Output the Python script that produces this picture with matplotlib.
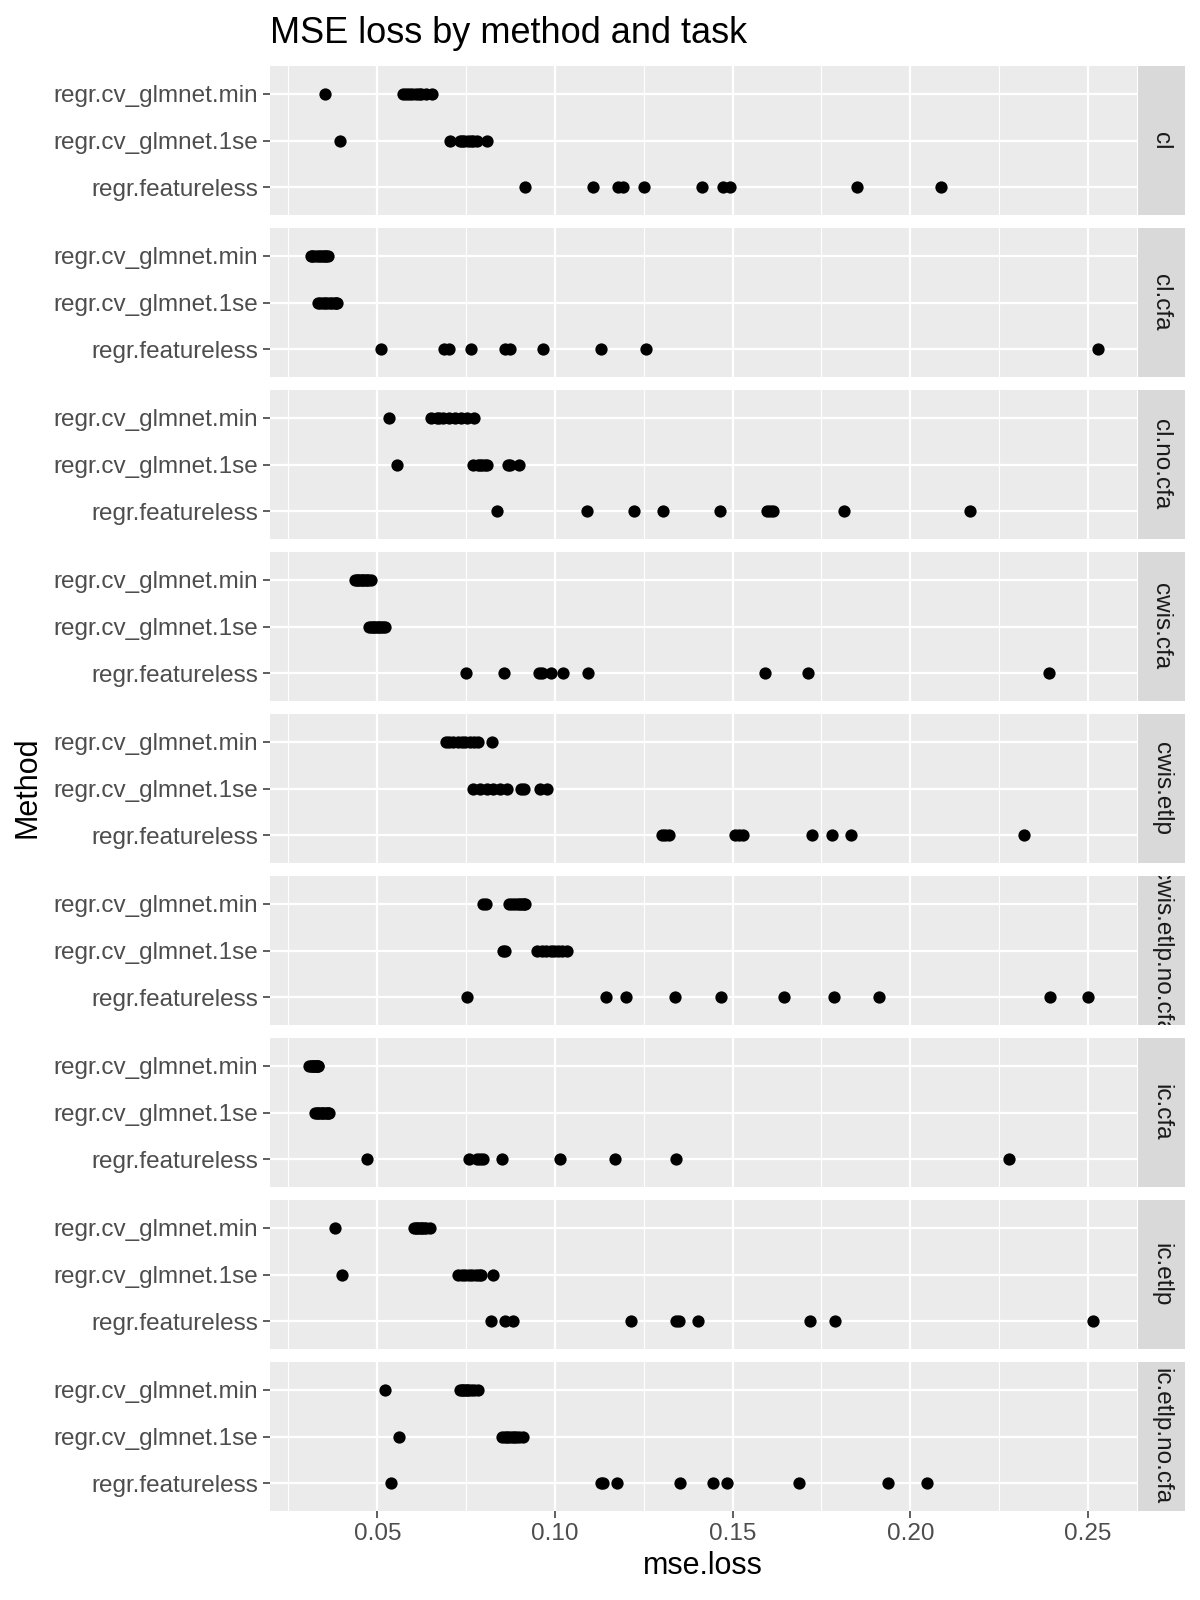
import matplotlib
matplotlib.use("Agg")
import matplotlib.pyplot as plt
import numpy as np

plt.rcParams['font.family'] = ['Liberation Sans', 'DejaVu Sans']

# ---------------- data ----------------
tasks = ["cl", "cl.cfa", "cl.no.cfa", "cwis.cfa", "cwis.etlp",
         "cwis.etlp.no.cfa", "ic.cfa", "ic.etlp", "ic.etlp.no.cfa"]
methods = ["regr.cv_glmnet.min", "regr.cv_glmnet.1se", "regr.featureless"]

cl_min = [0.0352, 0.0572, 0.0581, 0.0589, 0.0598, 0.0608, 0.0616, 0.0623, 0.0636, 0.0655]
cl_1se = [0.0394, 0.0706, 0.0733, 0.0739, 0.0745, 0.0756, 0.0763, 0.0769, 0.0780, 0.0809]
cl_featureless = [0.0917, 0.1108, 0.1178, 0.1191, 0.1250, 0.1413, 0.1473, 0.1492, 0.1850, 0.2086]

cl_cfa_min = [0.0313, 0.0317, 0.0323, 0.0330, 0.0336, 0.0342, 0.0347, 0.0353, 0.0356, 0.0361]
cl_cfa_1se = [0.0333, 0.0339, 0.0347, 0.0353, 0.0359, 0.0367, 0.0373, 0.0380, 0.0384, 0.0388]
cl_cfa_featureless = [0.0511, 0.0689, 0.0702, 0.0763, 0.0858, 0.0873, 0.0966, 0.1130, 0.1256, 0.2527]

cl_no_cfa_min = [0.0533, 0.0650, 0.0667, 0.0675, 0.0686, 0.0702, 0.0719, 0.0736, 0.0753, 0.0772]
cl_no_cfa_1se = [0.0556, 0.0770, 0.0783, 0.0789, 0.0795, 0.0802, 0.0808, 0.0867, 0.0873, 0.0898]
cl_no_cfa_featureless = [0.0838, 0.1091, 0.1223, 0.1303, 0.1464, 0.1597, 0.1605, 0.1614, 0.1814, 0.2169]

cwis_cfa_min = [0.0438, 0.0442, 0.0447, 0.0452, 0.0456, 0.0461, 0.0466, 0.0470, 0.0475, 0.0481]
cwis_cfa_1se = [0.0478, 0.0483, 0.0488, 0.0492, 0.0497, 0.0502, 0.0506, 0.0511, 0.0517, 0.0523]
cwis_cfa_featureless = [0.0750, 0.0856, 0.0955, 0.0964, 0.0988, 0.1022, 0.1092, 0.1591, 0.1713, 0.2391]

cwis_etlp_min = [0.0692, 0.0703, 0.0714, 0.0727, 0.0738, 0.0748, 0.0761, 0.0772, 0.0783, 0.0822]
cwis_etlp_1se = [0.0770, 0.0789, 0.0808, 0.0827, 0.0845, 0.0864, 0.0905, 0.0914, 0.0959, 0.0977]
cwis_etlp_featureless = [0.1302, 0.1311, 0.1320, 0.1508, 0.1519, 0.1530, 0.1722, 0.1781, 0.1833, 0.2319]

cwis_etlp_no_cfa_min = [0.0798, 0.0805, 0.0870, 0.0880, 0.0888, 0.0895, 0.0902, 0.0908, 0.0913, 0.0917]
cwis_etlp_no_cfa_1se = [0.0853, 0.0859, 0.0950, 0.0963, 0.0975, 0.0988, 0.0998, 0.1008, 0.1020, 0.1034]
cwis_etlp_no_cfa_featureless = [0.0753, 0.1145, 0.1200, 0.1339, 0.1466, 0.1645, 0.1784, 0.1911, 0.2392, 0.2500]

ic_cfa_min = [0.0309, 0.0313, 0.0316, 0.0319, 0.0322, 0.0325, 0.0328, 0.0330, 0.0333, 0.0334]
ic_cfa_1se = [0.0325, 0.0330, 0.0334, 0.0339, 0.0344, 0.0348, 0.0353, 0.0358, 0.0361, 0.0364]
ic_cfa_featureless = [0.0470, 0.0758, 0.0780, 0.0789, 0.0797, 0.0852, 0.1013, 0.1169, 0.1342, 0.2277]

ic_etlp_min = [0.0381, 0.0603, 0.0608, 0.0613, 0.0617, 0.0622, 0.0627, 0.0631, 0.0636, 0.0648]
ic_etlp_1se = [0.0402, 0.0728, 0.0739, 0.0748, 0.0758, 0.0767, 0.0777, 0.0786, 0.0792, 0.0825]
ic_etlp_featureless = [0.0819, 0.0859, 0.0881, 0.1213, 0.1341, 0.1350, 0.1403, 0.1719, 0.1788, 0.2514]

ic_etlp_no_cfa_min = [0.0523, 0.0733, 0.0738, 0.0742, 0.0747, 0.0752, 0.0756, 0.0764, 0.0773, 0.0783]
ic_etlp_no_cfa_1se = [0.0561, 0.0852, 0.0859, 0.0866, 0.0872, 0.0878, 0.0884, 0.0891, 0.0898, 0.0911]
ic_etlp_no_cfa_featureless = [0.0539, 0.1130, 0.1136, 0.1175, 0.1352, 0.1444, 0.1484, 0.1688, 0.1936, 0.2048]

x_ticks = [0.05, 0.10, 0.15, 0.20, 0.25]
x_tick_labels = ["0.05", "0.10", "0.15", "0.20", "0.25"]
x_minor = [0.025, 0.075, 0.125, 0.175, 0.225]

panel_data = [
    (cl_min, cl_1se, cl_featureless),
    (cl_cfa_min, cl_cfa_1se, cl_cfa_featureless),
    (cl_no_cfa_min, cl_no_cfa_1se, cl_no_cfa_featureless),
    (cwis_cfa_min, cwis_cfa_1se, cwis_cfa_featureless),
    (cwis_etlp_min, cwis_etlp_1se, cwis_etlp_featureless),
    (cwis_etlp_no_cfa_min, cwis_etlp_no_cfa_1se, cwis_etlp_no_cfa_featureless),
    (ic_cfa_min, ic_cfa_1se, ic_cfa_featureless),
    (ic_etlp_min, ic_etlp_1se, ic_etlp_featureless),
    (ic_etlp_no_cfa_min, ic_etlp_no_cfa_1se, ic_etlp_no_cfa_featureless),
]

# ---------------- layout ----------------
W, H = 1200, 1600
fig = plt.figure(figsize=(12, 16), dpi=100)
fig.patch.set_facecolor("white")

all_vals = np.concatenate([np.concatenate(p) for p in panel_data])
lo, hi = all_vals.min(), all_vals.max()
pad = 0.05 * (hi - lo)
xlim = (lo - pad, hi + pad)

left_px, right_px = 270, 1137
top0, ph, step = 66, 149, 162.0
strip_l, strip_w = 1138, 47

grid_col = "white"
for i, (task, series) in enumerate(zip(tasks, panel_data)):
    top = top0 + i * step
    y0 = 1 - (top + ph) / H
    ax = fig.add_axes([left_px / W, y0, (right_px - left_px) / W, ph / H])
    ax.set_facecolor("#EBEBEB")
    for s in ax.spines.values():
        s.set_visible(False)
    ax.set_xlim(*xlim)
    ax.set_ylim(2.6, -0.6)
    ax.set_xticks(x_ticks)
    ax.set_xticks(x_minor, minor=True)
    ax.set_yticks(range(len(methods)))
    ax.set_yticklabels(methods)
    ax.grid(which="major", color=grid_col, linewidth=1.6, zorder=0)
    ax.grid(which="minor", axis="x", color=grid_col, linewidth=0.8, zorder=0)
    ax.set_axisbelow(True)
    ax.tick_params(axis="y", length=5, width=1.1, color="#333333",
                   labelsize=17.5, labelcolor="#4D4D4D", pad=3.5)
    ax.tick_params(which="minor", length=0)
    if i == len(tasks) - 1:
        ax.set_xticklabels(x_tick_labels)
        ax.tick_params(axis="x", length=5, width=1.1, color="#333333",
                       labelsize=17.5, labelcolor="#4D4D4D", pad=3.5)
    else:
        ax.tick_params(axis="x", length=0, labelbottom=False)
    for j, vals in enumerate(series):
        ax.scatter(vals, [j] * len(vals), s=78, color="black",
                   linewidths=0, zorder=3)

    sax = fig.add_axes([strip_l / W, y0, strip_w / W, ph / H])
    sax.set_facecolor("#D9D9D9")
    sax.set_xticks([])
    sax.set_yticks([])
    for s in sax.spines.values():
        s.set_visible(False)
    sax.text(0.5, 0.5, task, rotation=-90, ha="center", va="center",
             fontsize=17.5, color="#1A1A1A", transform=sax.transAxes,
             clip_on=True)

fig.text(270 / W, 1 - 43 / H, "MSE loss by method and task", fontsize=26,
         ha="left", va="baseline", color="black")
fig.text(27.5 / W, 1 - 787 / H, "Method", rotation=90, fontsize=22,
         ha="center", va="center", color="black")
fig.text(703 / W, 1 - 1566 / H, "mse.loss", fontsize=22,
         ha="center", va="center", color="black")

fig.savefig("out.png", dpi=100)
